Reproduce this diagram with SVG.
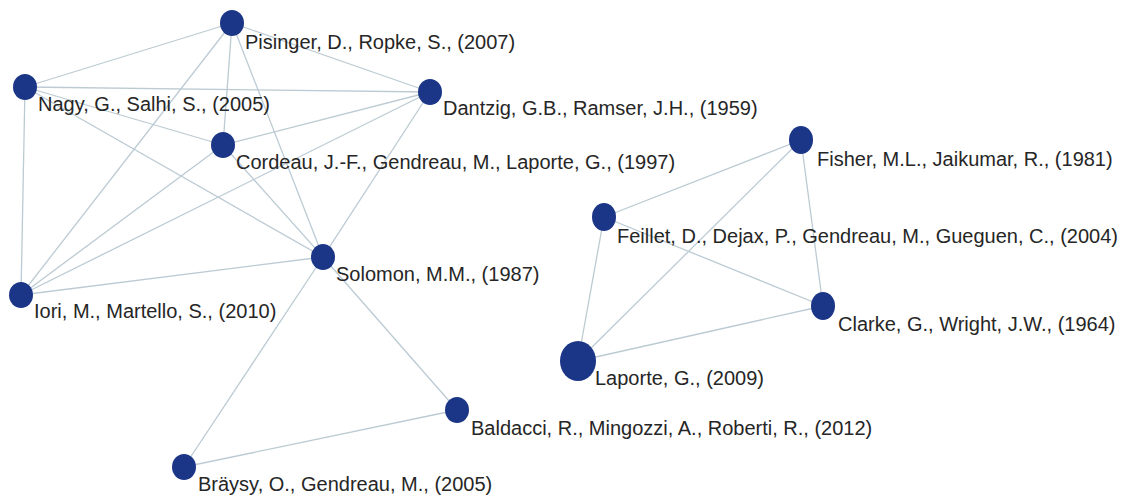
<svg xmlns="http://www.w3.org/2000/svg" width="1126" height="497" viewBox="0 0 1126 497">
  <style>
    .edge { stroke: #bccbd3; stroke-width: 1.3; fill: none; }
    .dot { fill: #1c3687; }
    .lbl { font-family: "Liberation Sans", Arial, sans-serif; font-size: 20px; fill: #262626; }
  </style>
  <rect width="1126" height="497" fill="#ffffff"/>

  <!-- co-citation links -->
  <g id="edges">
    <line class="edge" x1="232" y1="23" x2="25" y2="87"/>
    <line class="edge" x1="232" y1="23" x2="430" y2="92"/>
    <line class="edge" x1="232" y1="23" x2="223" y2="145"/>
    <line class="edge" x1="232" y1="23" x2="21" y2="295"/>
    <line class="edge" x1="232" y1="23" x2="323" y2="257"/>
    <line class="edge" x1="25" y1="87" x2="430" y2="92"/>
    <line class="edge" x1="25" y1="87" x2="223" y2="145"/>
    <line class="edge" x1="25" y1="87" x2="323" y2="257"/>
    <line class="edge" x1="25" y1="87" x2="21" y2="295"/>
    <line class="edge" x1="430" y1="92" x2="223" y2="145"/>
    <line class="edge" x1="430" y1="92" x2="21" y2="295"/>
    <line class="edge" x1="430" y1="92" x2="323" y2="257"/>
    <line class="edge" x1="223" y1="145" x2="21" y2="295"/>
    <line class="edge" x1="223" y1="145" x2="323" y2="257"/>
    <line class="edge" x1="21" y1="295" x2="323" y2="257"/>
    <line class="edge" x1="323" y1="257" x2="184" y2="467"/>
    <line class="edge" x1="323" y1="257" x2="457" y2="410"/>
    <line class="edge" x1="457" y1="410" x2="184" y2="467"/>

    <line class="edge" x1="801" y1="140" x2="604" y2="217"/>
    <line class="edge" x1="801" y1="140" x2="578" y2="361"/>
    <line class="edge" x1="801" y1="140" x2="823" y2="306"/>
    <line class="edge" x1="604" y1="217" x2="578" y2="361"/>
    <line class="edge" x1="604" y1="217" x2="823" y2="306"/>
    <line class="edge" x1="823" y1="306" x2="578" y2="361"/>
  </g>

  <g id="pisinger">
    <ellipse class="dot" cx="232" cy="23" rx="12" ry="13"/>
    <text class="lbl" x="245" y="49">Pisinger, D., Ropke, S., (2007)</text>
  </g>
  <g id="nagy">
    <ellipse class="dot" cx="25" cy="87" rx="12" ry="13"/>
    <text class="lbl" x="38" y="111">Nagy, G., Salhi, S., (2005)</text>
  </g>
  <g id="dantzig">
    <ellipse class="dot" cx="430" cy="92" rx="12" ry="13"/>
    <text class="lbl" x="443" y="115">Dantzig, G.B., Ramser, J.H., (1959)</text>
  </g>
  <g id="cordeau">
    <ellipse class="dot" cx="223" cy="145" rx="12" ry="13"/>
    <text class="lbl" x="236" y="169">Cordeau, J.-F., Gendreau, M., Laporte, G., (1997)</text>
  </g>
  <g id="solomon">
    <ellipse class="dot" cx="323" cy="257" rx="12" ry="13"/>
    <text class="lbl" x="336" y="281">Solomon, M.M., (1987)</text>
  </g>
  <g id="iori">
    <ellipse class="dot" cx="21" cy="295" rx="12" ry="13"/>
    <text class="lbl" x="34" y="318">Iori, M., Martello, S., (2010)</text>
  </g>
  <g id="baldacci">
    <ellipse class="dot" cx="457" cy="410" rx="12" ry="13"/>
    <text class="lbl" x="471" y="435">Baldacci, R., Mingozzi, A., Roberti, R., (2012)</text>
  </g>
  <g id="braysy">
    <ellipse class="dot" cx="184" cy="467" rx="12" ry="13"/>
    <text class="lbl" x="198" y="491">Bräysy, O., Gendreau, M., (2005)</text>
  </g>
  <g id="fisher">
    <ellipse class="dot" cx="801" cy="140" rx="12" ry="14"/>
    <text class="lbl" x="817" y="166">Fisher, M.L., Jaikumar, R., (1981)</text>
  </g>
  <g id="feillet">
    <ellipse class="dot" cx="604" cy="217" rx="12" ry="14"/>
    <text class="lbl" x="617" y="243">Feillet, D., Dejax, P., Gendreau, M., Gueguen, C., (2004)</text>
  </g>
  <g id="clarke">
    <ellipse class="dot" cx="823" cy="306" rx="12" ry="14"/>
    <text class="lbl" x="838" y="331">Clarke, G., Wright, J.W., (1964)</text>
  </g>
  <g id="laporte">
    <ellipse class="dot" cx="578" cy="361" rx="18" ry="20"/>
    <text class="lbl" x="595" y="385">Laporte, G., (2009)</text>
  </g>
</svg>
